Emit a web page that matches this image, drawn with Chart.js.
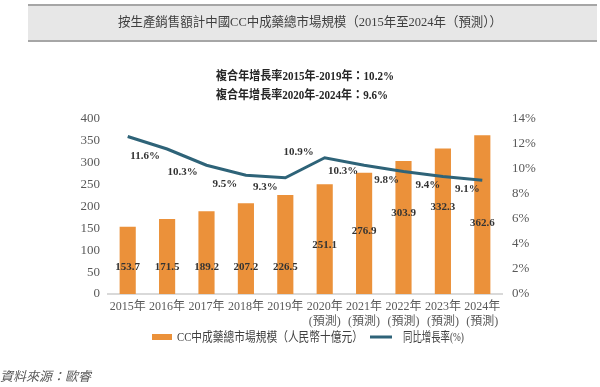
<!DOCTYPE html>
<html><head><meta charset="utf-8">
<script src="https://cdn.jsdelivr.net/npm/chart.js@4/dist/chart.umd.min.js"></script>
<style>html,body{margin:0;padding:0;background:#fff}#wrap{width:600px;height:387px;position:relative}</style>
</head><body><div id="wrap"><canvas id="c" width="600" height="387"></canvas></div>
<script>
const categories = [["2015年"],["2016年"],["2017年"],["2018年"],["2019年"],["2020年","(預測)"],["2021年","(預測)"],["2022年","(預測)"],["2023年","(預測)"],["2024年","(預測)"]];
const marketSize = [153.7,171.5,189.2,207.2,226.5,251.1,276.9,303.9,332.3,362.6];
const growthRate = [12.6,11.6,10.3,9.5,9.3,10.9,10.3,9.8,9.4,9.1];
const leftTicks = [0,50,100,150,200,250,300,350,400];
const rightTicks = [0,2,4,6,8,10,12,14];
const titleText = "按生產銷售額計中國CC中成藥總市場規模（2015年至2024年（預測））";
const cagrLines = ["複合年增長率2015年-2019年：10.2%","複合年增長率2020年-2024年：9.6%"];
const sourceText = "資料來源：歐睿";
const barLabel = "CC中成藥總市場規模（人民幣十億元）";
const lineLabel = "同比增長率(%)";

// label placement (style, not data)
const barLabelAnchor = [62.4,62.4,62.4,62.4,62.4,112,144.7,185.8,198,161.6];
const lineLabelOffset = [null,[-22,7],[-24,7],[-21,9],[-20,9.5],[-26,-6],[-21,6],[-17,8.5],[-15,8.5],[-15,9]];

const SERIF = "'Liberation Serif','Noto Sans CJK TC',serif";
const ORANGE = "#EB913A";
const TEAL = "#2E6378";
const TICK = "#595959";

const deco = {
  id:'deco',
  beforeDraw(chart){
    const ctx = chart.ctx;
    ctx.save();
    ctx.fillStyle = "#E7E7E7";
    ctx.fillRect(28,4,569,38);
    ctx.fillStyle = "#A6A6A6";
    ctx.fillRect(28,4,569,2);
    ctx.fillRect(28,40,569,2);
    ctx.fillStyle = "#404040";
    ctx.font = "13px " + SERIF;
    ctx.textAlign = "left"; ctx.textBaseline = "middle";
    ctx.fillText(titleText, 118, 23, 384);
    ctx.fillStyle = "#262626";
    ctx.font = "bold 12px " + SERIF;
    ctx.fillText(cagrLines[0], 216, 77, 178);
    ctx.fillText(cagrLines[1], 216, 96, 172);
    ctx.font = "italic 13px " + SERIF;
    ctx.fillStyle = "#595959";
    ctx.fillText(sourceText, 0, 378, 92);
    // legend
    ctx.fillStyle = ORANGE;
    ctx.fillRect(152,334,20,6);
    ctx.fillStyle = "#404040";
    ctx.font = "13px " + SERIF;
    ctx.fillText(chart.data.datasets[1].label, 177, 337.5, 186);
    ctx.strokeStyle = TEAL; ctx.lineWidth = 3;
    ctx.beginPath(); ctx.moveTo(370,337); ctx.lineTo(392,337); ctx.stroke();
    ctx.fillText(chart.data.datasets[0].label, 403, 337.5, 61);
    ctx.restore();
  },
  afterDatasetsDraw(chart){
    const ctx = chart.ctx;
    const ys = chart.scales.y;
    ctx.save();
    ctx.font = "bold 11px " + SERIF;
    ctx.fillStyle = "#333333";
    ctx.textAlign = "center"; ctx.textBaseline = "middle";
    const barMeta = chart.getDatasetMeta(1);
    barMeta.data.forEach((el,i)=>{
      ctx.fillText(marketSize[i].toFixed(1), el.x, ys.getPixelForValue(barLabelAnchor[i]));
    });
    const lineMeta = chart.getDatasetMeta(0);
    lineMeta.data.forEach((el,i)=>{
      const off = lineLabelOffset[i];
      if(!off) return;
      ctx.fillText(growthRate[i].toFixed(1)+"%", el.x+off[0], el.y+off[1]);
    });
    ctx.restore();
  }
};

new Chart(document.getElementById('c'), {
  data: {
    labels: categories,
    datasets: [
      { type:'line', label: lineLabel, data: growthRate, yAxisID:'y1', borderColor: TEAL, borderWidth: 3, pointRadius: 0, tension: 0, fill:false, order: 0 },
      { type:'bar', label: barLabel, data: marketSize, yAxisID:'y', backgroundColor: ORANGE, categoryPercentage: 1, barPercentage: 0.41, order: 1 }
    ]
  },
  options: {
    responsive:false, animation:false, devicePixelRatio:1,
    layout:{ padding:{ top:119, bottom:53, left:0, right:0 } },
    plugins:{ legend:{display:false}, tooltip:{enabled:false}, title:{display:false} },
    scales:{
      x:{
        grid:{ display:false, drawTicks:false },
        border:{ display:true, color:"#D9D9D9", width:2 },
        ticks:{ color:TICK, font:{ family:SERIF, size:12 }, padding:6, maxRotation:0, autoSkip:false },
        afterFit(s){ s.height = 40; }
      },
      y:{
        position:'left', min:0, max:400,
        afterBuildTicks(s){ s.ticks = leftTicks.map(v=>({value:v})); },
        grid:{ display:false, drawTicks:false }, border:{ display:false },
        ticks:{ color:TICK, font:{ family:SERIF, size:13 }, padding:8 },
        afterFit(s){ s.width = 108; }
      },
      y1:{
        position:'right', min:0, max:14,
        afterBuildTicks(s){ s.ticks = rightTicks.map(v=>({value:v})); },
        grid:{ display:false, drawTicks:false }, border:{ display:false },
        ticks:{ color:TICK, font:{ family:SERIF, size:13 }, padding:10, callback:v=>v+"%" },
        afterFit(s){ s.width = 98; }
      }
    }
  },
  plugins:[deco]
});
</script></body></html>
